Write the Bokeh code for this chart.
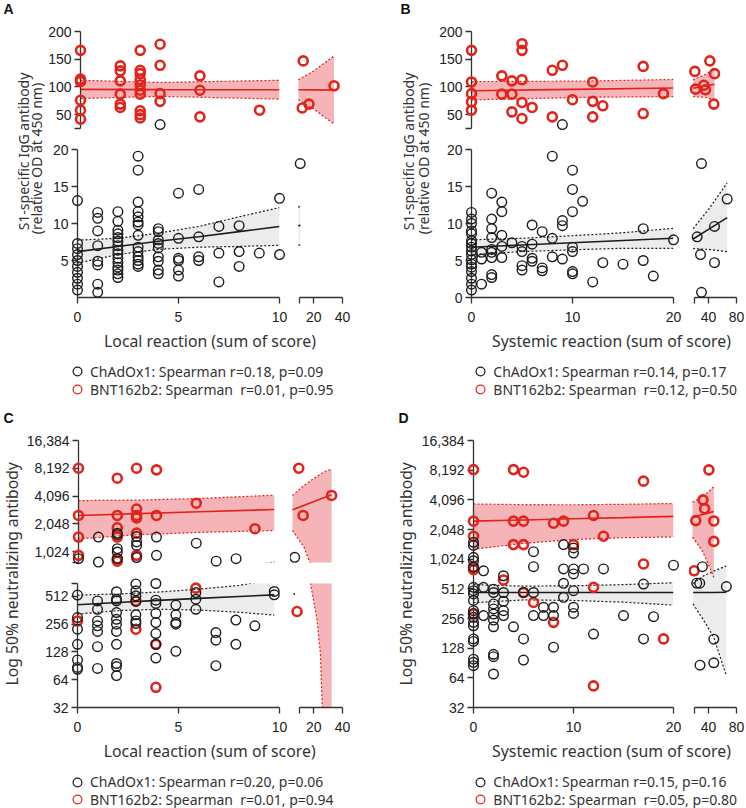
import numpy as np
from bokeh.plotting import figure
from bokeh.layouts import row, column
from bokeh.models import (Range1d, LinearAxis, LogAxis, FixedTicker, Label,
                          Legend, LegendItem, NumeralTickFormatter)
from bokeh.embed import file_html
from bokeh.resources import INLINE

# ============================ DATA ============================
# series are given as (x, [y values at that x]); "main" = left x-segment, "right" = right x-segment

# ---- Panel A : S1-specific IgG vs local reaction
A_chad_main = [(0, [13.1, 7.3, 6.6, 5.8, 5.0, 4.2, 3.4, 2.6, 1.8, 1.0]),
               (1, [11.5, 10.7, 9.0, 7.0, 4.9, 4.4, 1.8, 0.7]),
               (2, [11.6, 10.3, 9.1, 8.6, 8.1, 7.6, 7.0, 6.4, 5.9, 5.3, 4.7, 4.1, 3.7, 3.2, 2.7]),
               (3, [19.1, 17.2, 12.9, 11.6, 10.9, 10.2, 9.8, 8.4, 6.8, 6.2, 5.5, 5.0, 4.5, 4.2]),
               (4, [32, 9.3, 8.9, 7.8, 7.3, 6.7, 5.5, 4.9, 3.7, 3.2]),
               (5, [14.1, 8.0, 5.3, 5.0, 3.7, 2.9]),
               (6, [14.6, 8.2, 5.5, 5.0]),
               (7, [9.6, 6.0, 2.1]),
               (8, [9.7, 6.2, 4.2]),
               (9, [6.0]),
               (10, [13.4, 5.8])]
A_chad_right = [(10.5, [18.1])]
A_bnt_main = [(0, [166, 114, 110, 76, 58, 42]),
              (2, [138, 129, 111, 87, 69, 63]),
              (3, [166, 130, 124, 113, 104, 94, 87, 57, 50, 44]),
              (4, [177, 139, 88, 74]),
              (6, [120, 94, 46]),
              (9, [58])]
A_bnt_right = [(11.9, [62]), (12.6, [147]), (16.6, [69]), (34.1, [102])]
A_chad_fit_main = dict(x=[0, 2, 4, 6, 8, 10], lo=[4.65, 5.8, 6.5, 6.8, 6.9, 7.05],
                       mid=[6.2, 6.9, 7.6, 8.2, 8.9, 9.6], hi=[7.75, 8.0, 8.7, 9.6, 10.9, 12.15])
A_chad_fit_right = dict(x=[9.3, 10.5], lo=[7.05, 7.1], mid=[9.6, 9.8], hi=[12.15, 12.5])
A_bnt_fit_main = dict(x=[0, 4, 10], lo=[79, 83, 78], mid=[95.6, 95.2, 94.8], hi=[112, 108, 112])
A_bnt_fit_right = dict(x=[9.2, 20, 34.1], lo=[77, 60, 33], mid=[94.8, 94.6, 94.3], hi=[113, 129, 156])

# ---- Panel B : S1-specific IgG vs systemic reaction
B_chad_main = [(0, [11.5, 10.6, 10.0, 9.0, 8.6, 7.7, 7.3, 6.8, 6.3, 5.8, 5.1, 4.5, 4.1, 3.5, 2.6, 1.8, 1.0]),
               (1, [6.1, 5.2, 1.8]),
               (2, [14.1, 10.6, 9.3, 8.1, 6.5, 6.1, 5.4, 3.1, 2.7]),
               (3, [12.9, 11.6, 8.4, 6.9, 5.4]),
               (4, [7.4]),
               (5, [6.9, 6.2, 4.3, 3.7]),
               (6, [9.8, 7.2, 5.3, 4.9]),
               (7, [8.9, 4.0, 3.6]),
               (8, [19.1, 8.0, 5.5]),
               (9, [32, 10.4, 9.7, 5.2]),
               (10, [17.2, 14.6, 11.6, 6.8, 6.2, 3.5, 3.2]),
               (11, [13.0]), (12, [2.1]), (13, [4.7]), (15, [4.5]),
               (17, [9.3, 5.0]), (18, [2.9]), (20, [7.8])]
B_chad_right = [(23.8, [8.2]), (28.6, [5.8]), (30, [18.1, 0.7]), (48.6, [9.6, 4.7]), (66.7, [13.3])]
B_bnt_main = [(0, [166, 109, 88, 73, 58]), (3, [120, 87]), (4, [111, 87, 55]),
              (5, [178, 166, 113, 72, 43]), (6, [63]), (8, [130, 46]), (9, [139]),
              (10, [77]), (12, [109, 74, 46]), (13, [66]), (17, [137, 52]), (19, [88])]
B_bnt_right = [(20.5, [128]), (21.4, [96]), (33.3, [103]), (35.7, [95]),
               (41.9, [147]), (47.6, [69]), (48.6, [124])]
B_chad_fit_main = dict(x=[0, 5, 10, 15, 20], lo=[5.8, 6.2, 6.45, 6.65, 6.65],
                       mid=[6.8, 7.1, 7.4, 7.7, 8.0], hi=[7.8, 8.0, 8.35, 8.75, 9.35])
B_chad_fit_right = dict(x=[18, 40, 66.7], lo=[6.6, 6.5, 6.2], mid=[7.9, 9.2, 10.8], hi=[9.3, 11.9, 15.5])
B_bnt_fit_main = dict(x=[0, 6, 12, 20], lo=[76.7, 79, 81.4, 82.5],
                      mid=[93.2, 94.6, 96.1, 98.0], hi=[109.7, 110, 110.8, 113.5])
B_bnt_fit_right = dict(x=[18, 34, 48.6], lo=[82.5, 81.2, 77.5], mid=[97.6, 101.4, 104.8], hi=[112.8, 121.6, 132])

# ---- Panel C : neutralizing antibody vs local reaction
C_chad_main = [(0, [855, 530, 302, 226, 155, 105, 87, 83]),
               (0.99, [1470, 787, 458, 372, 278, 246, 214, 146, 85]),
               (1.93, [1620, 1565, 1100, 1010, 855, 576, 478, 458, 343, 290, 256, 214, 155, 96, 89, 71]),
               (2.89, [1490, 1300, 1190, 880, 700, 590, 520, 452, 324, 278, 261]),
               (3.88, [1470, 930, 708, 467, 430, 335, 267, 203, 155, 110]),
               (4.87, [413, 324, 267, 256, 130]),
               (5.86, [1260, 565, 478, 372]),
               (6.85, [805, 208, 172, 91]),
               (7.84, [857, 284, 155]),
               (8.78, [246]),
               (9.74, [580, 534])]
C_chad_right = [(6.65, [885])]
C_bnt_main = [(0, [8192, 2520, 1470, 930, 278]),
              (1.93, [6380, 2520, 1850, 1470, 855, 805]),
              (2.89, [8192, 2960, 2520, 2370, 1620, 930, 458, 226]),
              (3.88, [7870, 2520, 155, 53]),
              (5.86, [3420, 630]),
              (8.78, [1810])]
C_bnt_right = [(8.3, [352]), (9.46, [8192]), (12.55, [2520]), (32.4, [4150])]
C_chad_fit_main = dict(x=[0, 2, 4, 6, 8, 9.74], lo=[330, 360, 372, 365, 345, 322],
                       mid=[416, 440, 464, 488, 512, 533], hi=[530, 545, 572, 615, 675, 790])
C_chad_fit_right = dict(x=[6.0, 6.7], lo=[545, 547], mid=[545, 547], hi=[545, 547])
C_bnt_fit_main = dict(x=[0, 3, 6, 9.74], lo=[1400, 1560, 1650, 1730],
                      mid=[2520, 2640, 2760, 2920], hi=[3650, 3700, 3850, 4180])
C_bnt_fit_right = dict(x=[5.1, 13.1, 17.2, 17.7, 22.3, 24.6, 25.8, 27.0, 32.4],
                       lo=[1735, 1145, 778, 708, 278, 121, 35, 1, 1],
                       hi=[4150, 5330, 5900, 6000, 6700, 7050, 7250, 7450, 8060],
                       mx=[5.1, 32.4], mid=[2900, 4230])

# ---- Panel D : neutralizing antibody vs systemic reaction
D_chad_main = [(0, [1520, 1410, 1070, 985, 850, 530, 490, 455, 390, 307, 288, 263, 234, 216, 159, 150, 99, 92, 85]),
               (1, [780, 530, 274]),
               (2, [508, 470, 360, 320, 284, 247, 211, 111, 105, 70]),
               (3, [695, 470, 383, 307, 274]),
               (4, [211]),
               (5, [470, 159, 97]),
               (6, [1220, 860, 470, 274]),
               (7, [333, 274]),
               (8, [333, 274, 131]),
               (9, [1440, 815, 583, 420]),
               (10, [1330, 1180, 815, 725, 490, 333, 288]),
               (11, [815]), (12, [178]), (13, [815]), (15, [274]),
               (17, [573, 159]), (18, [267]), (20, [890])]
D_chad_right = [(23.2, [585]), (27.5, [585]), (27.9, [86]), (31.3, [860]), (47.6, [158, 91]), (65.5, [540])]
D_bnt_main = [(0, [8300, 2490, 1750, 850, 800, 284]), (3, [630]), (4, [8300, 2490, 1440]),
              (5, [7800, 2490, 1440, 470]), (6, [372]), (8, [2370, 234]), (9, [2490]),
              (10, [1440]), (12, [2840, 530, 53]), (13, [1750]), (17, [6340, 915]), (19, [159])]
D_bnt_right = [(19.5, [780]), (21.8, [2520]), (32.1, [4096]), (34.5, [3330]),
               (40.6, [8250]), (47.6, [2500, 1550])]
D_chad_fit_main = dict(x=[0, 5, 10, 15, 20], lo=[370, 395, 390, 375, 350],
                       mid=[470, 470, 470, 470, 470], hi=[565, 545, 550, 565, 590])
D_chad_fit_right = dict(x=[18, 33.6, 47.6, 65.5], lo=[360, 242, 164, 67],
                        mid=[470, 470, 470, 472], hi=[580, 698, 776, 873])
D_bnt_fit_main = dict(x=[0, 5, 10, 15, 20], lo=[1290, 1480, 1620, 1690, 1720],
                      mid=[2490, 2560, 2630, 2700, 2780], hi=[3720, 3660, 3650, 3690, 3760])
D_bnt_fit_right = dict(x=[17.2, 31, 40, 47.6], lo=[1710, 1250, 900, 667],
                       mid=[2700, 2900, 3020, 3120], hi=[3870, 4400, 4950, 5580])

# texts
YT_IGG = ["S1-specific IgG antibody", "(relative OD at 450 nm)"]
YT_NAB = "Log 50% neutralizing antibody"
XT_LOC = "Local reaction (sum of score)"
XT_SYS = "Systemic reaction (sum of score)"
LEG_A = ["ChAdOx1: Spearman r=0.18, p=0.09", "BNT162b2: Spearman  r=0.01, p=0.95"]
LEG_B = ["ChAdOx1: Spearman r=0.14, p=0.17", "BNT162b2: Spearman  r=0.12, p=0.50"]
LEG_C = ["ChAdOx1: Spearman r=0.20, p=0.06", "BNT162b2: Spearman  r=0.01, p=0.94"]
LEG_D = ["ChAdOx1: Spearman r=0.15, p=0.16", "BNT162b2: Spearman  r=0.05, p=0.80"]

# ============================ STYLE ============================
BLACK = "#1c1c1c"
RED = "#e2231a"
PINK = "#f5b4b7"
GREY = "#ececec"
AXC = "#333333"
TICK_FONT = "Liberation Sans"
TXT_FONT = "Noto Sans"


def expand(cols):
    xs, ys = [], []
    for x, vals in cols:
        for v in vals:
            xs.append(x)
            ys.append(v)
    return np.array(xs, dtype=float), np.array(ys, dtype=float)


def base_fig(w, h, xr, yr, ylog, b):
    p = figure(width=w, height=h, x_range=Range1d(*xr), y_range=Range1d(*yr),
               y_axis_type="log" if ylog else "linear",
               x_axis_location=None, y_axis_location=None, toolbar_location=None,
               output_backend="svg", title=None,
               min_border_left=b[0], min_border_right=b[1], min_border_top=b[2], min_border_bottom=b[3])
    p.outline_line_color = None
    p.grid.grid_line_color = None
    return p


def blank(w, h):
    return base_fig(w, h, (0, w), (0, h), False, (0, 0, 0, 0))


def style_axis(ax, standoff):
    ax.axis_line_color = AXC
    ax.axis_line_width = 1.3
    ax.major_tick_line_color = AXC
    ax.major_tick_line_width = 1.3
    ax.major_tick_out = 6
    ax.major_tick_in = 0
    ax.minor_tick_line_color = None
    ax.major_label_text_font = TICK_FONT
    ax.major_label_text_font_size = "14px"
    ax.major_label_text_color = "#222222"
    ax.major_label_standoff = standoff
    ax.formatter = NumeralTickFormatter(format="0,0")


def draw_fits(p, fits):
    for f, fill, col in fits:
        p.varea(x=f["x"], y1=f["lo"], y2=f["hi"], fill_color=fill, fill_alpha=1.0)
    for f, fill, col in fits:
        p.line(f["x"], f["lo"], line_color=col, line_width=1.2, line_dash="2 2")
        p.line(f["x"], f["hi"], line_color=col, line_width=1.2, line_dash="2 2")
        p.line(f.get("mx", f["x"]), f["mid"], line_color=col, line_width=1.6)


def points(p, xy, keep, color, lw, size):
    x, y = xy
    sel = (y >= keep[0]) & (y < keep[1])
    p.scatter(x[sel], y[sel], marker="circle", size=size, fill_color=None,
              line_color=color, line_width=lw, level="overlay")


def right_range(P):
    rx0, rx1 = P["right_px"]
    pa, va, pb, vb = P["right_axis"]
    k = (vb - va) / (pb - pa)
    return (va + (rx0 - pa) * k, va + (rx1 - pa) * k)


def footer(P, x0):
    W, H, ftop = P["W"], P["H"], P["foot_top"]
    fw, fh = W - x0, H - ftop
    foot = blank(fw, fh)
    xt_x, xt_y = P["xtitle_pos"]
    foot.add_layout(Label(x=xt_x - x0, y=fh - (xt_y - ftop), x_units="screen", y_units="screen",
                          text=P["xtitle"], text_align="center", text_baseline="middle",
                          text_font=TXT_FONT, text_font_size="15.8px", text_color="#333333"))
    cx = P["legend_x"]
    for txt, col, cy in zip(P["legend"], (BLACK, RED), P["legend_y"]):
        r = foot.scatter(x=[np.nan], y=[np.nan], marker="circle", size=9, fill_color=None,
                         line_color=col, line_width=1.2)
        leg = Legend(items=[LegendItem(label=txt, renderers=[r])],
                     location=(cx - 11 - x0, fh - (cy - ftop) - 14),
                     glyph_width=22, glyph_height=28, label_height=28, spacing=0,
                     padding=0, margin=0, label_standoff=2, border_line_color=None,
                     background_fill_alpha=0, label_text_font=TXT_FONT,
                     label_text_font_size="14px", label_text_color="#333333")
        foot.add_layout(leg)
    return foot


def make_panel(P):
    """separate figures for every (x-segment, y-segment) pair; a left strip holds letter and y title"""
    W, H, wl, ylog = P["W"], P["H"], P["wl"], P["ylog"]
    mx0, mx1 = P["main_px"]
    rx0, rx1 = P["right_px"]
    fits_m = [(P["chad_fit_main"], GREY, BLACK), (P["bnt_fit_main"], PINK, RED)]
    fits_r = [(P["chad_fit_right"], GREY, BLACK), (P["bnt_fit_right"], PINK, RED)]
    cm, cr = expand(P["chad_main"]), expand(P["chad_right"])
    bm, br = expand(P["bnt_main"]), expand(P["bnt_right"])
    kids = []
    nseg = len(P["segs"])
    for si, S in enumerate(P["segs"]):
        ft, fb = S["frame"]
        ct, cb = S["canvas"]
        yr = (S["val"][1], S["val"][0])
        fL = base_fig(rx0 - wl, cb - ct, P["main_val"], yr, ylog, (mx0 - wl, rx0 - mx1, ft - ct, cb - fb))
        fR = base_fig(W - rx0, cb - ct, right_range(P), yr, ylog, (0, W - rx1, ft - ct, cb - fb))
        for p, fits, c, b in ((fL, fits_m, cm, bm), (fR, fits_r, cr, br)):
            draw_fits(p, fits)
            points(p, b, S["keep"], RED, 2.6, 9.0)
            points(p, c, S["keep"], BLACK, 1.4, 9.6)
        yax = (LogAxis if ylog else LinearAxis)(ticker=FixedTicker(ticks=S["ticks"]))
        style_axis(yax, 3)
        yax.major_label_overrides = S["ovr"]
        fL.add_layout(yax, "left")
        if si == nseg - 1:
            xa = LinearAxis(ticker=FixedTicker(ticks=P["xt_main"]))
            style_axis(xa, 8)
            fL.add_layout(xa, "below")
            xb = LinearAxis(ticker=FixedTicker(ticks=P["xt_right"]), bounds=P["right_bounds"])
            style_axis(xb, 8)
            xb.major_label_overrides = {P["right_bounds"][0]: ""}
            fR.add_layout(xb, "below")
        kids.append(row(fL, fR, spacing=0))
    kids.append(footer(P, wl))

    left = blank(wl, H)
    lx, ly = P["letter_pos"]
    left.add_layout(Label(x=lx, y=H - ly, x_units="screen", y_units="screen", text=P["letter"],
                          text_align="left", text_baseline="top", text_font=TICK_FONT,
                          text_font_style="bold", text_font_size="14px", text_color="#111111"))
    for txt, x, y in P["ytitle"]:
        left.add_layout(Label(x=x, y=H - y, x_units="screen", y_units="screen", text=txt,
                              angle=np.pi / 2, text_align="center", text_baseline="middle",
                              text_font=TXT_FONT, text_font_size=P["ytitle_size"], text_color="#333333"))
    return row(left, column(*kids, spacing=0), spacing=0)


LEFT_X = dict(W=373, main_px=(77, 279), main_val=(0, 10), right_px=(290, 345), right_axis=(299, 10, 342, 40),
              right_bounds=(10, 40), xt_main=[0, 5, 10], xt_right=[10, 20, 40])
RIGHT_X = dict(W=373, main_px=(98, 300), main_val=(0, 20), right_px=(316, 365), right_axis=(321, 20, 363, 80),
               right_bounds=(20, 80), xt_main=[0, 10, 20], xt_right=[20, 40, 80])

SEG_IGG_TOP = dict(frame=(31, 128), canvas=(0, 138), val=(200, 25), ticks=[25, 50, 100, 150, 200],
                   ovr={25: ""}, keep=(24, 1e9))
PA = dict(H=403, wl=45, ylog=False, foot_top=326,
          segs=[SEG_IGG_TOP, dict(frame=(149, 297), canvas=(138, 326), val=(20, 0), ticks=[5, 10, 15, 20],
                                  ovr={}, keep=(-1e9, 24))],
          chad_main=A_chad_main, chad_right=A_chad_right, bnt_main=A_bnt_main, bnt_right=A_bnt_right,
          chad_fit_main=A_chad_fit_main, chad_fit_right=A_chad_fit_right,
          bnt_fit_main=A_bnt_fit_main, bnt_fit_right=A_bnt_fit_right,
          letter="A", letter_pos=(3, 0.3), ytitle_size="14px",
          ytitle=[(YT_IGG[0], 22.5, 151), (YT_IGG[1], 35.5, 158)],
          xtitle=XT_LOC, xtitle_pos=(209.5, 340.7), legend=LEG_A, legend_x=77, legend_y=(371, 389.3), **LEFT_X)
PB = dict(H=403, wl=62, ylog=False, foot_top=326,
          segs=[SEG_IGG_TOP, dict(frame=(149, 297), canvas=(138, 326), val=(20, 0), ticks=[0, 5, 10, 15, 20],
                                  ovr={}, keep=(-1e9, 24))],
          chad_main=B_chad_main, chad_right=B_chad_right, bnt_main=B_bnt_main, bnt_right=B_bnt_right,
          chad_fit_main=B_chad_fit_main, chad_fit_right=B_chad_fit_right,
          bnt_fit_main=B_bnt_fit_main, bnt_fit_right=B_bnt_fit_right,
          letter="B", letter_pos=(27, 0.3), ytitle_size="14px",
          ytitle=[(YT_IGG[0], 35, 151), (YT_IGG[1], 50, 158)],
          xtitle=XT_SYS, xtitle_pos=(238, 340.7), legend=LEG_B, legend_x=107.3, legend_y=(371, 389.3), **RIGHT_X)
PC = dict(H=405, wl=23, ylog=True, foot_top=332,
          segs=[dict(frame=(37, 159), canvas=(0, 169), val=(16384, 778),
                     ticks=[778, 1024, 2048, 4096, 8192, 16384], ovr={778: ""}, keep=(740, 1e9)),
                dict(frame=(180, 304), canvas=(169, 332), val=(708, 32),
                     ticks=[32, 64, 128, 256, 512, 708], ovr={708: ""}, keep=(-1e9, 740))],
          chad_main=C_chad_main, chad_right=C_chad_right, bnt_main=C_bnt_main, bnt_right=C_bnt_right,
          chad_fit_main=C_chad_fit_main, chad_fit_right=C_chad_fit_right,
          bnt_fit_main=C_bnt_fit_main, bnt_fit_right=C_bnt_fit_right,
          letter="C", letter_pos=(3, 6), ytitle_size="15.7px",
          ytitle=[(YT_NAB, 11.5, 170.3)],
          xtitle=XT_LOC, xtitle_pos=(209.2, 347), legend=LEG_C, legend_x=77, legend_y=(378.7, 396.3), **LEFT_X)
PD = dict(H=405, wl=45, ylog=True, foot_top=332,
          segs=[dict(frame=(37, 304), canvas=(0, 332), val=(16384, 32),
                     ticks=[32, 64, 128, 256, 512, 1024, 2048, 4096, 8192, 16384], ovr={}, keep=(-1e9, 1e9))],
          chad_main=D_chad_main, chad_right=D_chad_right, bnt_main=D_bnt_main, bnt_right=D_bnt_right,
          chad_fit_main=D_chad_fit_main, chad_fit_right=D_chad_fit_right,
          bnt_fit_main=D_bnt_fit_main, bnt_fit_right=D_bnt_fit_right,
          letter="D", letter_pos=(25, 6), ytitle_size="15.7px",
          ytitle=[(YT_NAB, 32, 170.3)],
          xtitle=XT_SYS, xtitle_pos=(238, 347), legend=LEG_D, legend_x=107.3, legend_y=(378.7, 396.3), **RIGHT_X)

layout = column(row(make_panel(PA), make_panel(PB), spacing=0),
                row(make_panel(PC), make_panel(PD), spacing=0), spacing=0)

open("out.html", "w").write(file_html(layout, INLINE, "S1 IgG and neutralizing antibody vs reactogenicity"))
